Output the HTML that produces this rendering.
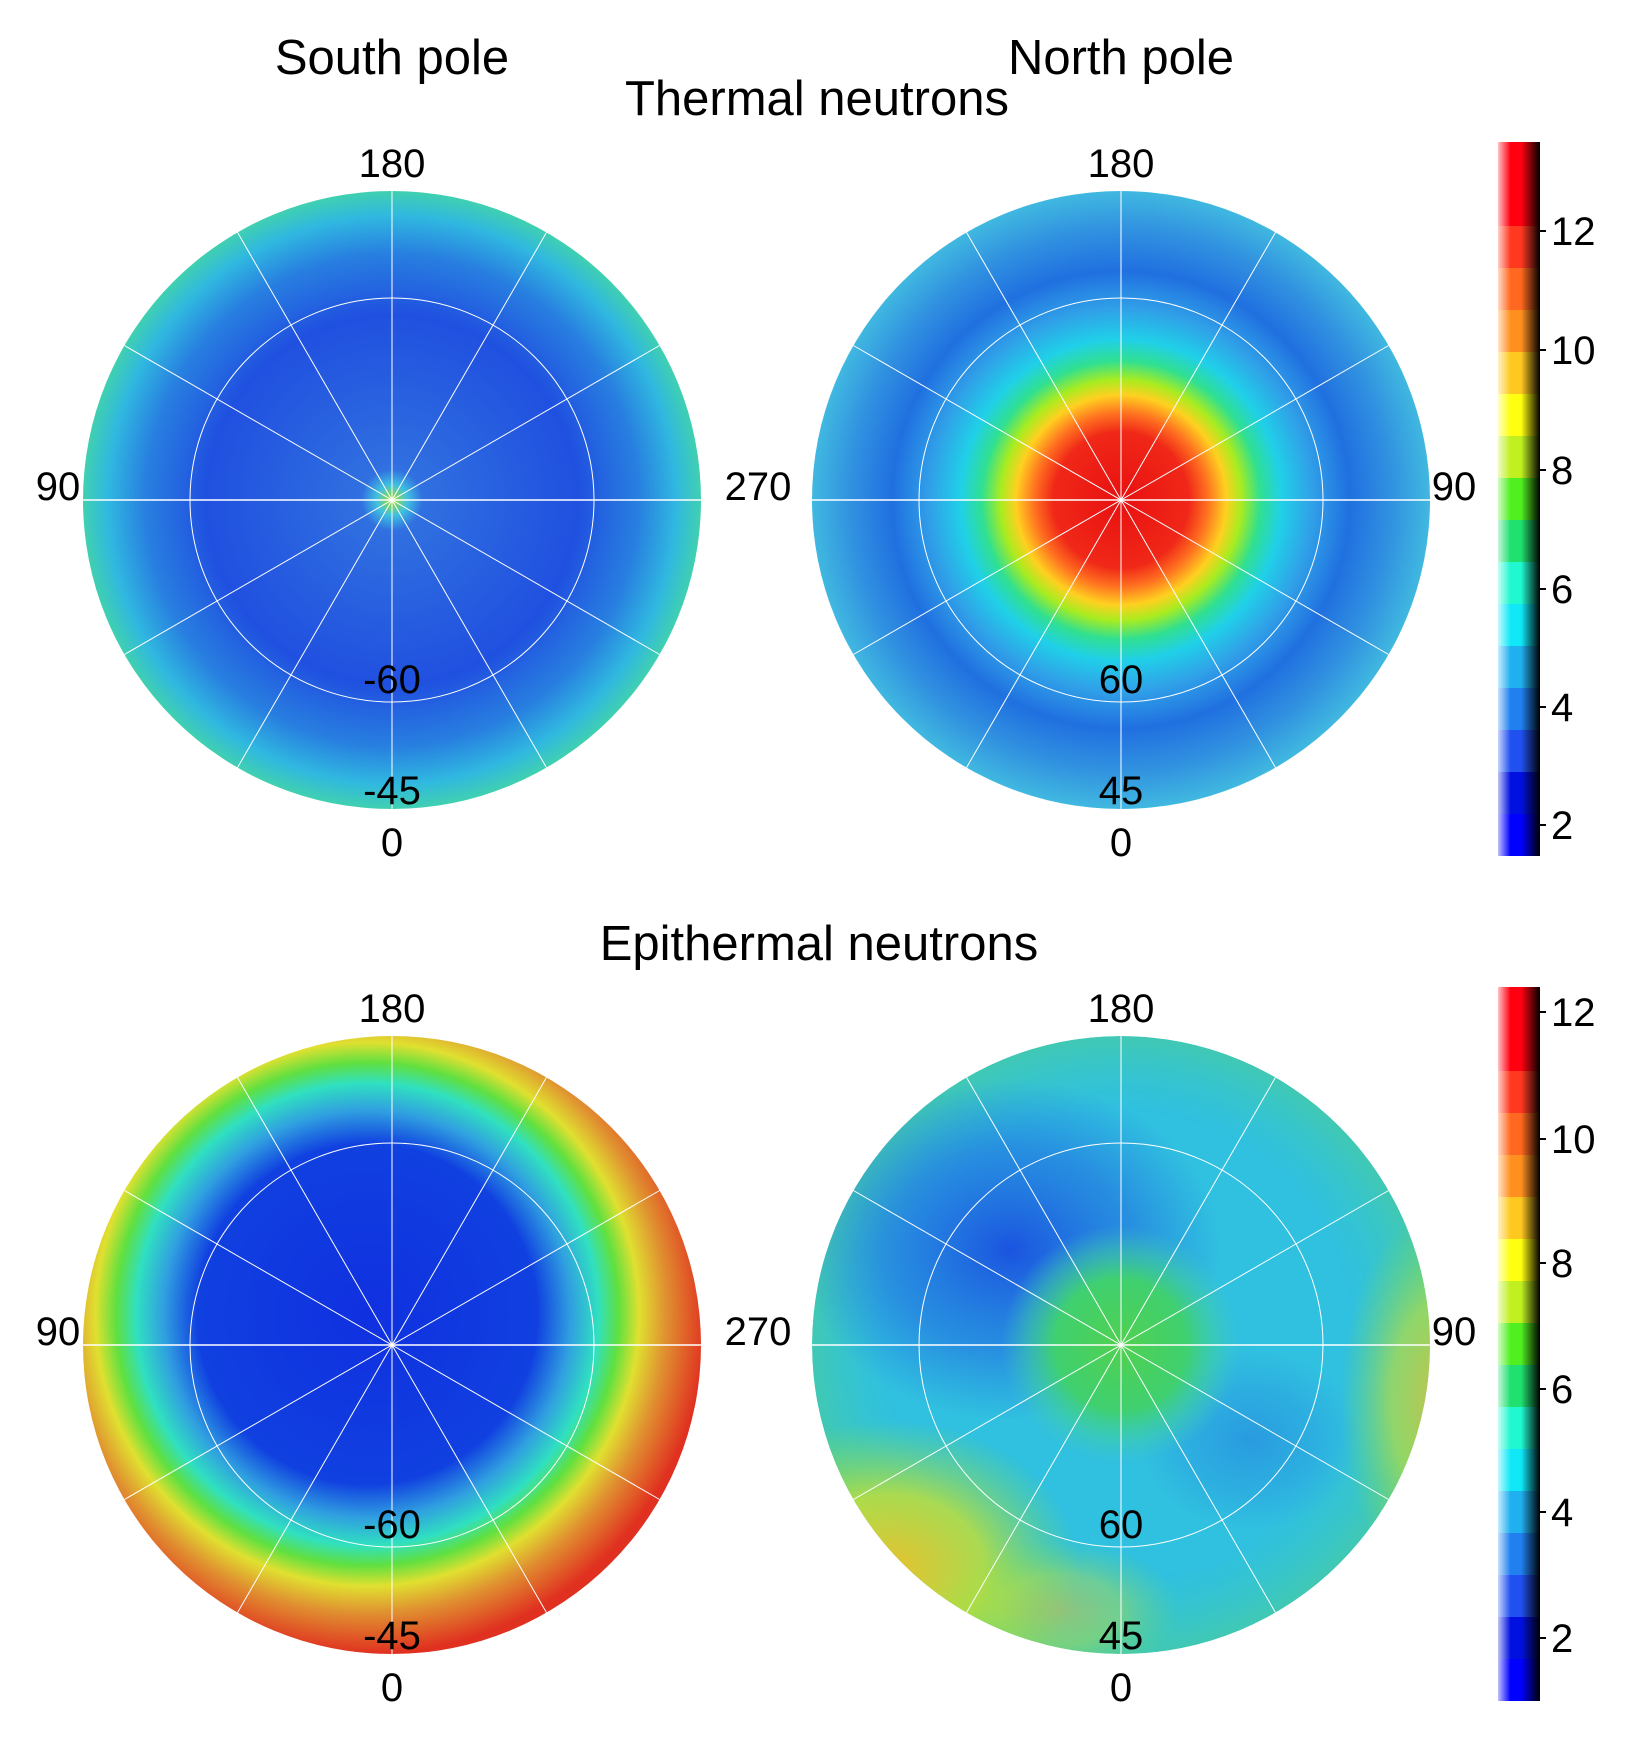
<!DOCTYPE html>
<html><head><meta charset="utf-8"><style>
html,body{margin:0;padding:0;background:#fff;}
svg{display:block;}
text{font-family:"Liberation Sans",sans-serif;fill:#000;}
</style></head><body>
<svg width="1640" height="1750" viewBox="0 0 1640 1750" xmlns="http://www.w3.org/2000/svg">
<defs>
<radialGradient id="ts" cx="0.5" cy="0.5" r="0.5">
<stop offset="0" stop-color="#a0e020"/><stop offset="0.05" stop-color="#40c0e0"/><stop offset="0.1" stop-color="#3070e0"/>
<stop offset="0.6" stop-color="#2050e0"/><stop offset="0.8" stop-color="#2880e0"/><stop offset="0.92" stop-color="#30b8e0"/><stop offset="1" stop-color="#40d0b0"/>
</radialGradient>
<radialGradient id="tn" cx="0.5" cy="0.5" r="0.5">
<stop offset="0" stop-color="#e81010"/><stop offset="0.22" stop-color="#f02818"/><stop offset="0.28" stop-color="#ff7020"/>
<stop offset="0.34" stop-color="#ffd020"/><stop offset="0.39" stop-color="#a8ec20"/><stop offset="0.45" stop-color="#30e090"/>
<stop offset="0.52" stop-color="#20d0e8"/><stop offset="0.62" stop-color="#30a0e8"/><stop offset="0.74" stop-color="#2070e0"/>
<stop offset="0.87" stop-color="#3090e0"/><stop offset="1" stop-color="#40b8e0"/>
</radialGradient>
<radialGradient id="es" cx="0.46" cy="0.45" r="0.55">
<stop offset="0" stop-color="#1030e0"/><stop offset="0.5" stop-color="#1040e0"/><stop offset="0.6" stop-color="#30a0e0"/>
<stop offset="0.68" stop-color="#30e0c0"/><stop offset="0.74" stop-color="#60e040"/><stop offset="0.8" stop-color="#e0e030"/>
<stop offset="0.88" stop-color="#e09030"/><stop offset="1" stop-color="#e03020"/>
</radialGradient>
<radialGradient id="enr" cx="0.5" cy="0.5" r="0.5">
<stop offset="0" stop-color="#40d8a0" stop-opacity="0"/><stop offset="0.75" stop-color="#40d8a0" stop-opacity="0"/>
<stop offset="1" stop-color="#60d860" stop-opacity="0.35"/>
</radialGradient>
<radialGradient id="blob" cx="0.5" cy="0.5" r="0.5">
<stop offset="0" stop-color="#1848e0" stop-opacity="0.9"/><stop offset="0.6" stop-color="#2068e0" stop-opacity="0.55"/><stop offset="1" stop-color="#2070e0" stop-opacity="0"/>
</radialGradient>
<radialGradient id="yb" cx="0.5" cy="0.5" r="0.5">
<stop offset="0" stop-color="#e8c030" stop-opacity="1"/><stop offset="0.5" stop-color="#c8e030" stop-opacity="0.8"/><stop offset="1" stop-color="#80e040" stop-opacity="0"/>
</radialGradient>
<radialGradient id="enc" cx="0.5" cy="0.5" r="0.5">
<stop offset="0" stop-color="#50d050"/><stop offset="0.55" stop-color="#40d070"/><stop offset="0.8" stop-color="#40d0a0" stop-opacity="0.5"/><stop offset="1" stop-color="#40c8c0" stop-opacity="0"/>
</radialGradient>
<clipPath id="cn"><circle cx="1121" cy="1345" r="309"/></clipPath>
<linearGradient id="cb" x1="0" y1="1" x2="0" y2="0">
<stop offset="0" stop-color="#0000ff"/><stop offset="0.0588" stop-color="#0000ff"/>
<stop offset="0.0588" stop-color="#0010e0"/><stop offset="0.1176" stop-color="#0010e0"/>
<stop offset="0.1176" stop-color="#2050f0"/><stop offset="0.1765" stop-color="#2050f0"/>
<stop offset="0.1765" stop-color="#2080f0"/><stop offset="0.2353" stop-color="#2080f0"/>
<stop offset="0.2353" stop-color="#20b0f0"/><stop offset="0.2941" stop-color="#20b0f0"/>
<stop offset="0.2941" stop-color="#10e8f8"/><stop offset="0.3529" stop-color="#10e8f8"/>
<stop offset="0.3529" stop-color="#20f8d0"/><stop offset="0.4118" stop-color="#20f8d0"/>
<stop offset="0.4118" stop-color="#20e070"/><stop offset="0.4706" stop-color="#20e070"/>
<stop offset="0.4706" stop-color="#50f020"/><stop offset="0.5294" stop-color="#50f020"/>
<stop offset="0.5294" stop-color="#c0f020"/><stop offset="0.5882" stop-color="#c0f020"/>
<stop offset="0.5882" stop-color="#ffff10"/><stop offset="0.6471" stop-color="#ffff10"/>
<stop offset="0.6471" stop-color="#ffc820"/><stop offset="0.7059" stop-color="#ffc820"/>
<stop offset="0.7059" stop-color="#ff9020"/><stop offset="0.7647" stop-color="#ff9020"/>
<stop offset="0.7647" stop-color="#ff6820"/><stop offset="0.8235" stop-color="#ff6820"/>
<stop offset="0.8235" stop-color="#ff3820"/><stop offset="0.8824" stop-color="#ff3820"/>
<stop offset="0.8824" stop-color="#ff0010"/><stop offset="1" stop-color="#ff0010"/>
</linearGradient>
<linearGradient id="sh" x1="0" y1="0" x2="1" y2="0">
<stop offset="0" stop-color="#fff" stop-opacity="0.75"/><stop offset="0.3" stop-color="#fff" stop-opacity="0"/>
<stop offset="0.55" stop-color="#000" stop-opacity="0"/><stop offset="1" stop-color="#000" stop-opacity="1"/>
</linearGradient>
<g id="grid" stroke="#fff" stroke-width="1" fill="none">
<circle r="202"/>
<line x1="0" y1="-309" x2="0" y2="309"/>
<line x1="-267.6" y1="-154.5" x2="267.6" y2="154.5"/>
<line x1="-154.5" y1="-267.6" x2="154.5" y2="267.6"/>
<line x1="-267.6" y1="154.5" x2="267.6" y2="-154.5"/>
<line x1="-154.5" y1="267.6" x2="154.5" y2="-267.6"/>
</g>
</defs>

<text x="392" y="74" font-size="49" text-anchor="middle">South pole</text>
<text x="1121" y="74" font-size="49" text-anchor="middle">North pole</text>
<text x="817" y="115" font-size="49" text-anchor="middle">Thermal neutrons</text>
<text x="819" y="960" font-size="49" text-anchor="middle">Epithermal neutrons</text>

<circle cx="392" cy="500" r="309" fill="url(#ts)"/>
<circle cx="1121" cy="500" r="309" fill="url(#tn)"/>
<use href="#grid" x="392" y="500"/>
<use href="#grid" x="1121" y="500"/>
<line x1="83" y1="500" x2="800" y2="500" stroke="#fff" stroke-width="1.5"/>
<line x1="812" y1="500" x2="1430" y2="500" stroke="#fff" stroke-width="1.5"/>

<g font-size="40" text-anchor="middle">
<text x="392" y="177">180</text>
<text x="392" y="856">0</text>
<text x="392" y="693">-60</text>
<text x="392" y="804">-45</text>
<text x="58" y="500">90</text>
<text x="758" y="500">270</text>
<text x="1121" y="177">180</text>
<text x="1121" y="856">0</text>
<text x="1121" y="693">60</text>
<text x="1121" y="804">45</text>
<text x="1454" y="500">90</text>
</g>

<circle cx="392" cy="1345" r="309" fill="url(#es)"/>
<g clip-path="url(#cn)">
<circle cx="1121" cy="1345" r="309" fill="#30c0e0"/>
<circle cx="1121" cy="1345" r="309" fill="url(#enr)"/>
<ellipse cx="890" cy="1570" rx="190" ry="150" fill="url(#yb)"/>
<ellipse cx="1440" cy="1400" rx="100" ry="190" fill="url(#yb)" opacity="0.75"/>
<ellipse cx="1060" cy="1610" rx="120" ry="70" fill="url(#yb)" opacity="0.5"/>
<ellipse cx="1010" cy="1250" rx="210" ry="170" fill="url(#blob)"/>
<ellipse cx="1250" cy="1440" rx="110" ry="90" fill="url(#blob)" opacity="0.35"/>
<circle cx="1121" cy="1345" r="120" fill="url(#enc)"/>
</g>
<use href="#grid" x="392" y="1345"/>
<use href="#grid" x="1121" y="1345"/>
<line x1="83" y1="1345" x2="800" y2="1345" stroke="#fff" stroke-width="1.5"/>
<line x1="812" y1="1345" x2="1430" y2="1345" stroke="#fff" stroke-width="1.5"/>

<g font-size="40" text-anchor="middle">
<text x="392" y="1022">180</text>
<text x="392" y="1701">0</text>
<text x="392" y="1538">-60</text>
<text x="392" y="1649">-45</text>
<text x="58" y="1345">90</text>
<text x="758" y="1345">270</text>
<text x="1121" y="1022">180</text>
<text x="1121" y="1701">0</text>
<text x="1121" y="1538">60</text>
<text x="1121" y="1649">45</text>
<text x="1454" y="1345">90</text>
</g>

<rect x="1498" y="142" width="42" height="714" fill="url(#cb)"/>
<rect x="1498" y="142" width="42" height="714" fill="url(#sh)"/>
<rect x="1498" y="987" width="42" height="714" fill="url(#cb)"/>
<rect x="1498" y="987" width="42" height="714" fill="url(#sh)"/>
<g stroke="#000" stroke-width="2">
<line x1="1540" y1="231" x2="1546" y2="231"/><line x1="1540" y1="350" x2="1546" y2="350"/>
<line x1="1540" y1="470" x2="1546" y2="470"/><line x1="1540" y1="589" x2="1546" y2="589"/>
<line x1="1540" y1="707" x2="1546" y2="707"/><line x1="1540" y1="825" x2="1546" y2="825"/>
<line x1="1540" y1="1012" x2="1546" y2="1012"/><line x1="1540" y1="1139" x2="1546" y2="1139"/>
<line x1="1540" y1="1263" x2="1546" y2="1263"/><line x1="1540" y1="1389" x2="1546" y2="1389"/>
<line x1="1540" y1="1512" x2="1546" y2="1512"/><line x1="1540" y1="1638" x2="1546" y2="1638"/>
</g>
<g font-size="40">
<text x="1551" y="245">12</text><text x="1551" y="364">10</text><text x="1551" y="484">8</text>
<text x="1551" y="603">6</text><text x="1551" y="721">4</text><text x="1551" y="839">2</text>
<text x="1551" y="1026">12</text><text x="1551" y="1153">10</text><text x="1551" y="1277">8</text>
<text x="1551" y="1403">6</text><text x="1551" y="1526">4</text><text x="1551" y="1652">2</text>
</g>
</svg>
</body></html>
